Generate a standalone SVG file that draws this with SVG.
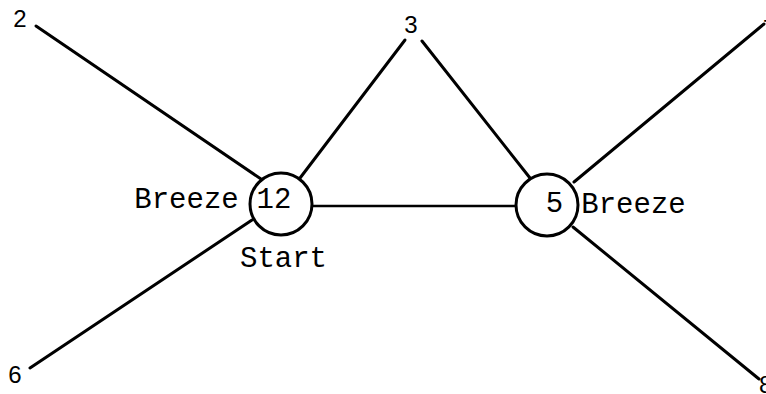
<svg xmlns="http://www.w3.org/2000/svg" width="766" height="394" viewBox="0 0 766 394">
<style>
.edge{stroke:#000;stroke-width:3;stroke-linecap:round;fill:none}
.node{fill:#fff;stroke:#000;stroke-width:3}
.mono{font-family:"Liberation Mono","Courier New",monospace;font-size:29px;fill:#000;text-anchor:middle}
.sans{font-family:"Liberation Sans",Arial,sans-serif;font-size:24px;fill:#000;text-anchor:middle}
</style>
<rect width="766" height="394" fill="#fff"/>
<g id="connectors">
<line class="edge" x1="36" y1="26" x2="261" y2="179"/>
<line class="edge" x1="297" y1="182" x2="405" y2="40"/>
<line class="edge" x1="422" y1="41" x2="530" y2="178"/>
<line class="edge" x1="252" y1="220" x2="30" y2="368"/>
<line class="edge" x1="313" y1="206" x2="516" y2="206" style="stroke-width:2.5"/>
<line class="edge" x1="574" y1="182" x2="764" y2="24"/>
<line class="edge" x1="573" y1="227" x2="759" y2="379"/>
</g>
<g id="node-12">
<circle class="node" cx="281" cy="204" r="31"/>
<text class="mono" x="274" y="208">12</text>
<text class="mono" x="186.5" y="208">Breeze</text>
<text class="mono" x="283.5" y="267">Start</text>
</g>
<g id="node-5">
<circle class="node" cx="547" cy="205" r="31"/>
<text class="mono" x="554.5" y="212">5</text>
<text class="mono" x="633.5" y="213">Breeze</text>
</g>
<g id="node-2"><text class="sans" x="20" y="27">2</text></g>
<g id="node-3"><text class="sans" x="411" y="33">3</text></g>
<g id="node-6"><text class="sans" x="15" y="383">6</text></g>
<g id="node-7"><text class="sans" x="763" y="37" style="text-anchor:start">7</text></g>
<g id="node-8"><text class="sans" x="759" y="393" style="text-anchor:start">8</text></g>
</svg>
